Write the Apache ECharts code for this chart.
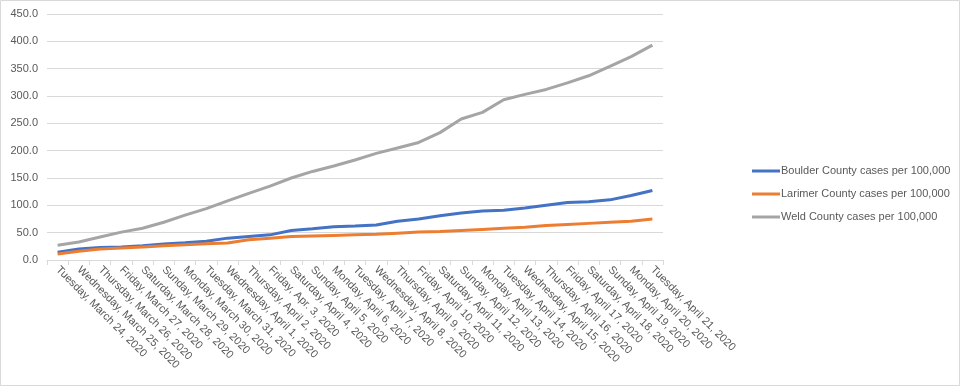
<!DOCTYPE html>
<html>
<head>
<meta charset="utf-8">
<script src="https://cdn.jsdelivr.net/npm/echarts@6/dist/echarts.min.js"></script>
<style>html,body{margin:0;padding:0;background:#fff}#c{width:960px;height:386px}</style>
</head>
<body>
<div id="c"></div>
<script>
const categories = [
  "Tuesday, March 24, 2020","Wednesday, March 25, 2020","Thursday, March 26, 2020","Friday, March 27, 2020",
  "Saturday, March 28, 2020","Sunday, March 29, 2020","Monday, March 30, 2020","Tuesday, March 31, 2020",
  "Wednesday, April 1, 2020","Thursday, April 2, 2020","Friday, Apr. 3, 2020","Saturday, April 4, 2020",
  "Sunday, April 5, 2020","Monday, April 6, 2020","Tuesday, April 7, 2020","Wednesday, April 8, 2020",
  "Thursday, April 9, 2020","Friday, April 10, 2020","Saturday, April 11, 2020","Sunday, April 12, 2020",
  "Monday, April 13, 2020","Tuesday, April 14, 2020","Wednesday, April 15, 2020","Thursday, April 16, 2020",
  "Friday, April 17, 2020","Saturday, April 18, 2020","Sunday, April 19, 2020","Monday, April 20, 2020",
  "Tuesday, April 21, 2020"
];
const seriesNames = ["Boulder County cases per 100,000","Larimer County cases per 100,000","Weld County cases per 100,000"];
const boulder = [14,20,23,24,26,29.5,31.5,34.5,40,43,46,54,57,61,62,64,71,75,81,86,89.5,91,95,100,105,106.5,110,118,127];
const larimer = [11,16,20,22,24,26,28,29.5,31,37,40,43,44,45,46,47,49,51,52,54,56,58,60,63,65,67,69,71,75];
const weld = [27,33,42,51,58,69,82,94,108,122,135,150,162,172,183,195,205,215,233,258,270,293,303,312,324,337,354,372,393];
const yTicks = {min:0, max:450, step:50};
const colors = ["#4472C4","#ED7D31","#A5A5A5"];

const chart = echarts.init(document.getElementById('c'), null, {renderer:'canvas'});
const font = "'Liberation Sans', Arial, sans-serif";
chart.setOption({
  animation:false,
  backgroundColor:'#fff',
  graphic:[{type:'rect',shape:{x:0.5,y:0.5,width:959,height:385},style:{fill:'none',stroke:'#D9D9D9',lineWidth:1},silent:true}],
  grid:{left:47,right:297,top:14,bottom:126,containLabel:false},
  legend:{
    orient:'vertical', left:752, top:164, padding:0, itemWidth:28, itemHeight:3, itemGap:9,
    icon:'rect',
    textStyle:{color:'#595959',fontSize:11,fontFamily:font,lineHeight:14,padding:[0,0,0,-4]},
    data:seriesNames
  },
  xAxis:{
    type:'category', data:categories, boundaryGap:true,
    axisLine:{lineStyle:{color:'#D9D9D9'}},
    axisTick:{show:true,length:5,lineStyle:{color:'#D9D9D9'}},
    axisLabel:{interval:0,rotate:-45,color:'#595959',fontSize:11,fontFamily:font,margin:8}
  },
  yAxis:{
    type:'value', min:yTicks.min, max:yTicks.max, interval:yTicks.step,
    axisLine:{show:false}, axisTick:{show:false},
    splitLine:{lineStyle:{color:'#D9D9D9'}},
    axisLabel:{color:'#595959',fontSize:11,fontFamily:font,margin:9,formatter:v=>v.toFixed(1)}
  },
  series:[boulder,larimer,weld].map((d,i)=>({
    name:seriesNames[i], type:'line', data:d, symbol:'none',
    lineStyle:{color:colors[i],width:3}, itemStyle:{color:colors[i]}
  }))
});
</script>
</body>
</html>
